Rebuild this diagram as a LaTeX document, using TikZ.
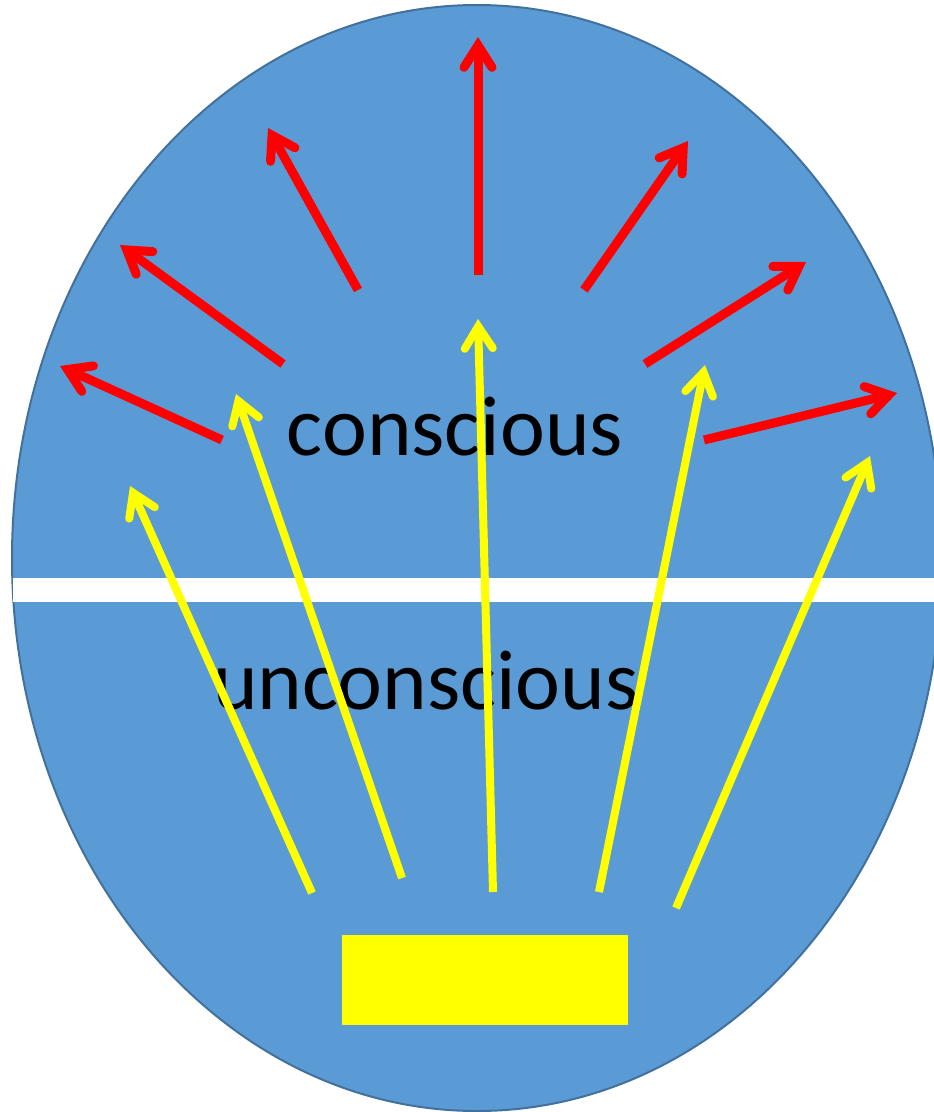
\documentclass[tikz,border=0pt]{standalone}
\usepackage{fontspec}
\setmainfont{Carlito}
\usetikzlibrary{arrows.meta}
\definecolor{bluefill}{HTML}{5B9BD5}
\definecolor{blueline}{HTML}{41719C}
\definecolor{redarr}{HTML}{FF0000}
\definecolor{yelarr}{HTML}{FFFF00}
\tikzset{
  openhead/.tip={Straight Barb[length=22pt,width=28pt,line cap=round,line join=miter]},
  redarrow/.style={draw=redarr,line width=9pt,-{openhead}},
  yelarrow/.style={draw=yelarr,line width=8pt,-{openhead}},
  lbl/.style={anchor=base,inner sep=0pt,font=\fontsize{85}{100}\selectfont}
}
\begin{document}
\begin{tikzpicture}[x=1pt,y=-1pt]
\useasboundingbox (0,0) rectangle (934,1112);
\clip (0,0) rectangle (934,1112);
\fill[white] (0,0) rectangle (934,1112);
\draw[fill=bluefill,draw=blueline,line width=2pt] (477,558) ellipse [x radius=465pt, y radius=553pt];
\fill[white] (13,578) rectangle (945,602);
\node[fill=yelarr,minimum width=286pt,minimum height=90pt,inner sep=0pt,anchor=north west] (box) at (342,935) {};
% red arrow coordinates
\coordinate (r1s) at (222,440); \coordinate (r1e) at (60,366);
\coordinate (r2s) at (283,364); \coordinate (r2e) at (120,245);
\coordinate (r3s) at (358,290); \coordinate (r3e) at (268,128);
\coordinate (r4s) at (478,275); \coordinate (r4e) at (478,37);
\coordinate (r5s) at (584,290); \coordinate (r5e) at (688,141);
\coordinate (r6s) at (645,364); \coordinate (r6e) at (806,262);
\coordinate (r7s) at (704,440); \coordinate (r7e) at (897,393);
\foreach \i in {1,...,7} {\draw[redarrow] (r\i s) -- (r\i e);}
\node[lbl] (con) at (455,455) {conscious};
\node[lbl] (uncon) at (426,709) {unconscious};
% yellow arrows
\coordinate (y1s) at (312,893); \coordinate (y1e) at (130,486);
\coordinate (y2s) at (402,878); \coordinate (y2e) at (236,394);
\coordinate (y3s) at (493,892); \coordinate (y3e) at (478,319);
\coordinate (y4s) at (599,892); \coordinate (y4e) at (705,365);
\coordinate (y5s) at (676,908); \coordinate (y5e) at (870,456);
\foreach \i in {1,...,5} {\draw[yelarrow] (y\i s) -- (y\i e);}
\end{tikzpicture}
\end{document}
